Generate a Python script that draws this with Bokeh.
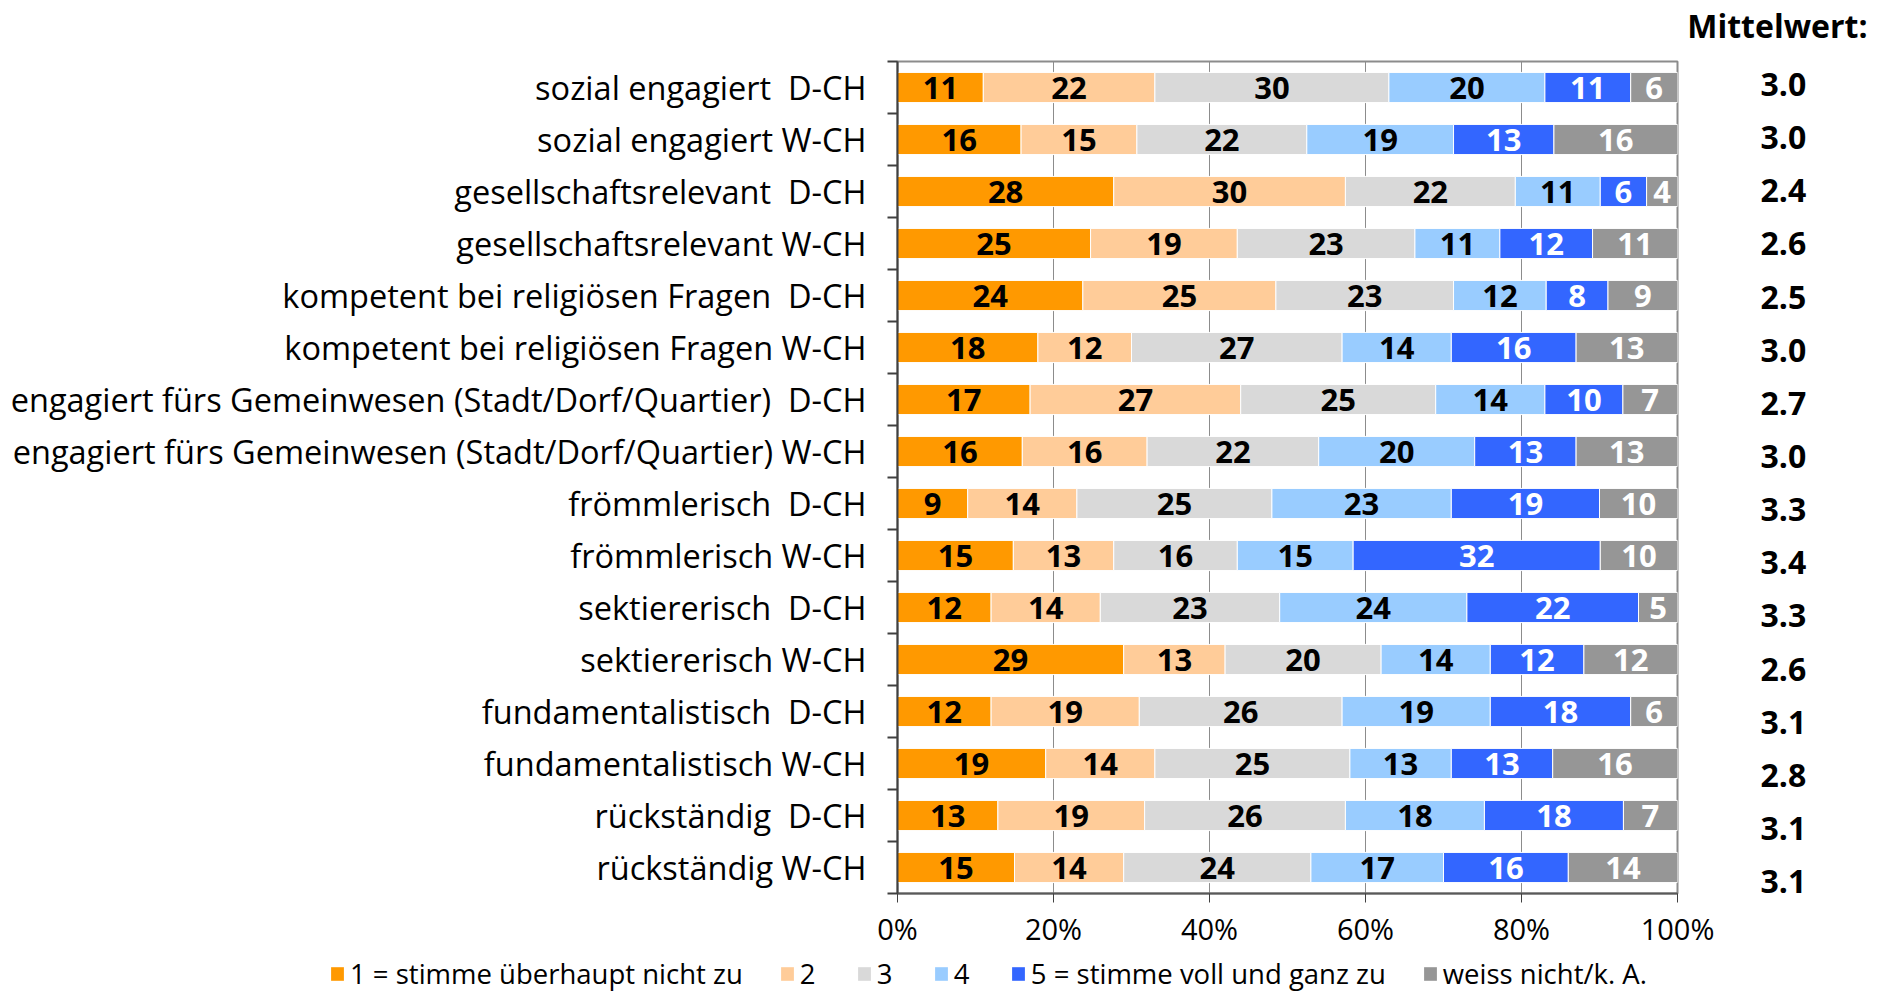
import numpy as np
from bokeh.plotting import figure
from bokeh.models import (ColumnDataSource, Range1d, FixedTicker, LinearAxis, Label,
                          Legend, LegendItem, PrintfTickFormatter)
from bokeh.core.properties import value
from bokeh.embed import file_html
from bokeh.resources import INLINE

# ---------------- data (top row first) ----------------
NB = "\u00a0"   # keeps the double space before "D-CH"
categories = [
    "sozial engagiert" + NB + " D-CH",
    "sozial engagiert W-CH",
    "gesellschaftsrelevant" + NB + " D-CH",
    "gesellschaftsrelevant W-CH",
    "kompetent bei religiösen Fragen" + NB + " D-CH",
    "kompetent bei religiösen Fragen W-CH",
    "engagiert fürs Gemeinwesen (Stadt/Dorf/Quartier)" + NB + " D-CH",
    "engagiert fürs Gemeinwesen (Stadt/Dorf/Quartier) W-CH",
    "frömmlerisch" + NB + " D-CH",
    "frömmlerisch W-CH",
    "sektiererisch" + NB + " D-CH",
    "sektiererisch W-CH",
    "fundamentalistisch" + NB + " D-CH",
    "fundamentalistisch W-CH",
    "rückständig" + NB + " D-CH",
    "rückständig W-CH",
]
series_names = ["1 = stimme überhaupt nicht zu", "2", "3", "4",
                "5 = stimme voll und ganz zu", "weiss nicht/k. A."]
s1 = [11, 16, 28, 25, 24, 18, 17, 16, 9, 15, 12, 29, 12, 19, 13, 15]
s2 = [22, 15, 30, 19, 25, 12, 27, 16, 14, 13, 14, 13, 19, 14, 19, 14]
s3 = [30, 22, 22, 23, 23, 27, 25, 22, 25, 16, 23, 20, 26, 25, 26, 24]
s4 = [20, 19, 11, 11, 12, 14, 14, 20, 23, 15, 24, 14, 19, 13, 18, 17]
s5 = [11, 13, 6, 12, 8, 16, 10, 13, 19, 32, 22, 12, 18, 13, 18, 16]
s6 = [6, 16, 4, 11, 9, 13, 7, 13, 10, 10, 5, 12, 6, 16, 7, 14]
means = [3.0, 3.0, 2.4, 2.6, 2.5, 3.0, 2.7, 3.0, 3.3, 3.4, 3.3, 2.6, 3.1, 2.8, 3.1, 3.1]
x_ticks = [0, 20, 40, 60, 80, 100]
mean_title = "Mittelwert:"

colors = ["#FF9900", "#FFCC99", "#D9D9D9", "#99CCFF", "#3366FF", "#969696"]
label_colors = ["#000000", "#000000", "#000000", "#000000", "#FFFFFF", "#FFFFFF"]
FONT = "Open Sans"

series = [s1, s2, s3, s4, s5, s6]
vals = np.array(series, dtype=float)          # 6 x 16
totals = vals.sum(axis=0)
cum = np.cumsum(vals, axis=0)
rows = np.arange(len(categories)) + 0.5       # row centres (top = 0.5)

W = 1875
H_HEAD, TOP, FRAME_H, BOTTOM, H_LEG = 58, 3, 838, 51, 41

# ---------------- header strip ("Mittelwert:") ----------------
ph = figure(width=W, height=H_HEAD, x_range=Range1d(0, W), y_range=Range1d(H_HEAD, 0),
            output_backend="svg", toolbar_location=None, min_border=0,
            x_axis_location=None, y_axis_location=None)
ph.grid.grid_line_color = None
ph.outline_line_color = None
ph.add_layout(Label(x=1867, y=25, text=mean_title, text_align="right",
                    text_baseline="alphabetic", text_font=FONT,
                    text_font_style="bold", text_font_size="32px",
                    text_color="#000000"))

# ---------------- main chart ----------------
p = figure(width=W, height=TOP + FRAME_H + BOTTOM,
           x_range=Range1d(0, 100), y_range=Range1d(16, 0),
           output_backend="svg", toolbar_location=None,
           min_border_left=897, min_border_right=W - 1677,
           min_border_top=TOP, min_border_bottom=BOTTOM)
p.extra_y_ranges = {"mean": Range1d(start=15.72, end=0.07)}

for k in range(len(series)):
    right = cum[k] / totals * 100
    left = right - vals[k] / totals * 100
    src = ColumnDataSource(dict(
        y=rows, left=left, right=right, xc=(left + right) / 2,
        lbl=[str(int(v)) for v in vals[k]]))
    p.hbar(y="y", left="left", right="right", height=0.58, source=src,
           fill_color=colors[k], line_color="white", line_width=1)
    p.text(x="xc", y="y", text="lbl", source=src, text_align="center",
           text_baseline="middle", text_font=value(FONT), text_font_style="bold",
           text_font_size="31px", text_color=label_colors[k])

# y axis: labels at row centres, tick marks between rows
yax = p.yaxis[0]
yax.ticker = FixedTicker(ticks=list(rows), minor_ticks=list(range(len(categories) + 1)))
yax.major_label_overrides = {float(r): c for r, c in zip(rows, categories)}
yax.major_tick_out = 0
yax.major_tick_in = 0
yax.minor_tick_out = 10
yax.minor_tick_in = 0
yax.minor_tick_line_color = "#404040"
yax.minor_tick_line_width = 2
yax.axis_line_color = "#404040"
yax.axis_line_width = 2
yax.major_label_text_font = FONT
yax.major_label_text_font_size = "32.5px"
yax.major_label_text_color = "#000000"
yax.major_label_standoff = 21

# right axis: mean values
max_ = LinearAxis(y_range_name="mean",
                  ticker=FixedTicker(ticks=list(rows), minor_ticks=[]),
                  major_label_overrides={float(r): "%.1f" % m for r, m in zip(rows, means)})
max_.axis_line_color = None
max_.major_tick_line_color = None
max_.minor_tick_line_color = None
max_.major_tick_out = 0
max_.major_tick_in = 0
max_.major_label_standoff = 83
max_.major_label_text_font = FONT
max_.major_label_text_font_style = "bold"
max_.major_label_text_font_size = "32px"
max_.major_label_text_color = "#000000"
p.add_layout(max_, "right")

xax = p.xaxis[0]
xax.ticker = FixedTicker(ticks=x_ticks)
xax.formatter = PrintfTickFormatter(format="%d%%")
xax.major_tick_out = 9
xax.major_tick_in = 0
xax.minor_tick_line_color = None
xax.major_tick_line_color = "#404040"
xax.major_tick_line_width = 1
xax.axis_line_color = "#595959"
xax.axis_line_width = 2
xax.major_label_text_font = FONT
xax.major_label_text_font_size = "29px"
xax.major_label_text_color = "#000000"
xax.major_label_standoff = 6

p.xgrid.grid_line_color = "#8C8C8C"
p.xgrid.grid_line_width = 1
p.ygrid.grid_line_color = None
p.outline_line_color = "#8C8C8C"
p.outline_line_width = 2
p.background_fill_color = "white"
p.border_fill_color = "white"

# ---------------- legend strip below the chart ----------------
pl = figure(width=W, height=H_LEG, x_range=Range1d(0, 1), y_range=Range1d(0, 1),
            output_backend="svg", toolbar_location=None, min_border=0,
            x_axis_location=None, y_axis_location=None)
pl.grid.grid_line_color = None
pl.outline_line_color = None
leg_renderers = []
for k in range(len(series)):
    # legend swatches only: the single bar lies outside the strip's visible range
    leg_renderers.append(pl.hbar(y=[-5], left=[0], right=[1], height=0.5,
                                 fill_color=colors[k], line_color=None))
legend = Legend(items=[LegendItem(label=n, renderers=[r]) for n, r in zip(series_names, leg_renderers)],
                orientation="horizontal", location=(329, -1),
                glyph_width=16, glyph_height=17, label_standoff=5, spacing=36,
                padding=0, margin=0, label_text_font=FONT,
                label_text_font_size="27.5px", label_text_color="#000000",
                border_line_alpha=0, background_fill_alpha=0)
pl.add_layout(legend)

open("out.html", "w").write(file_html([ph, p, pl], INLINE))
